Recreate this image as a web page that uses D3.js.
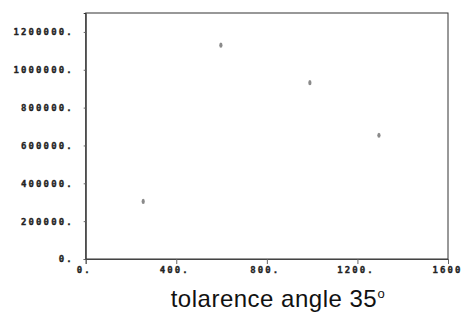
<!DOCTYPE html>
<html><head><meta charset="utf-8">
<script src="https://cdn.jsdelivr.net/npm/d3@7"></script>
<style>
html,body{margin:0;padding:0;background:#fff;overflow:hidden;}
svg{display:block;}
.tick text{font-family:"DejaVu Sans Mono",monospace;font-weight:bold;font-size:9px;letter-spacing:2.1px;fill:#222;stroke:#222;stroke-width:0.35px;}
</style></head>
<body>
<script>
const xValues = [254, 597, 990, 1295];
const yValues = [304000, 1130000, 932000, 654000];
const xTicks = [0, 400, 800, 1200, 1600];
const yTicks = [0, 200000, 400000, 600000, 800000, 1000000, 1200000];
const titleText = "tolarence angle 35";

const W = 463, H = 320;
const svg = d3.select("body").append("svg").attr("width", W).attr("height", H);

const x = d3.scaleLinear().domain([0, 1600]).range([85.7, 448]);
const y = d3.scaleLinear().domain([0, 1300000]).range([259, 13]);

// frame
svg.append("rect").attr("x", x(0)).attr("y", y(1300000))
  .attr("width", x(1600) - x(0)).attr("height", y(0) - y(1300000))
  .attr("fill", "none").attr("stroke", "#333").attr("stroke-width", 1);

const xAxis = svg.append("g").attr("transform", `translate(0,${y(0)})`)
  .call(d3.axisBottom(x).tickValues(xTicks).tickSize(5).tickPadding(4)
    .tickFormat(d => d === 1600 ? "1600" : d + "."));
xAxis.select(".domain").attr("stroke", "#444");
xAxis.selectAll(".tick line").attr("stroke", "#666");
xAxis.selectAll(".tick text").attr("dx", -2).attr("dy", "0.55em");
xAxis.selectAll(".tick").filter(d => d === 1600).select("text")
  .attr("text-anchor", "end").attr("x", W - 1 - x(1600) + 2).attr("letter-spacing", "1.3px");

const yAxis = svg.append("g").attr("transform", `translate(${x(0)},0)`)
  .call(d3.axisLeft(y).tickValues(yTicks).tickSize(2).tickPadding(10)
    .tickFormat(d => d + "."));
yAxis.select(".domain").attr("stroke", "#333");
yAxis.selectAll(".tick line").attr("stroke", "#666");

// points
svg.append("g").selectAll("ellipse").data(xValues).join("ellipse")
  .attr("cx", (d, i) => x(d)).attr("cy", (d, i) => y(yValues[i]))
  .attr("rx", 1.6).attr("ry", 2.6).attr("fill", "#8a8a8a");

// title
svg.append("text").attr("x", 170.7).attr("y", 307)
  .attr("font-family", "Liberation Sans, Arial, sans-serif")
  .attr("font-size", 24).attr("letter-spacing", 0.5).attr("fill", "#111")
  .text(titleText);
svg.append("text").attr("x", 377.5).attr("y", 298)
  .attr("font-family", "Liberation Sans, Arial, sans-serif")
  .attr("font-size", 13).attr("fill", "#111").text("o");
</script>
</body></html>
